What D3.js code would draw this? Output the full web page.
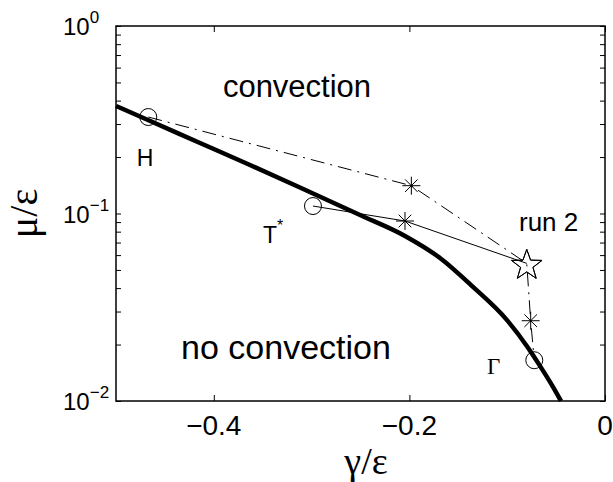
<!DOCTYPE html>
<html>
<head>
<meta charset="utf-8">
<script src="https://cdn.jsdelivr.net/npm/d3@7"></script>
<style>
  body { margin: 0; background: #fff; }
  text { font-family: "Liberation Sans", Arial, sans-serif; fill: #000; }
  .greek { font-family: "Liberation Serif", "Times New Roman", serif; }
</style>
</head>
<body>
<div id="chart"></div>
<script>
// Grenzkurve (dicke Linie)
const boundaryX = [-0.5, -0.4673, -0.4141, -0.3630, -0.3119, -0.2505, -0.2045, -0.1687, -0.1350, -0.1002, -0.0798, -0.0665, -0.0532, -0.045];
const boundaryY = [0.3745, 0.3151, 0.2377, 0.1814, 0.1376, 0.0982, 0.0759, 0.0579, 0.0406, 0.0270, 0.0196, 0.0154, 0.0119, 0.0100];

// Strich-Punkt-Pfad: H -> * -> Stern -> * -> Gamma
const dashX = [-0.467, -0.198, -0.080, -0.076, -0.0723];
const dashY = [0.327, 0.1407, 0.0542, 0.0268, 0.0165];
const dashMarkers = ["circle", "asterisk", "star", "asterisk", "circle"];

// Durchgezogener Pfad: T* -> * -> Stern
const solidX = [-0.2986, -0.2045, -0.080];
const solidY = [0.1096, 0.0912, 0.0542];
const solidMarkers = ["circle", "asterisk", "star"];

const xTicks = [-0.4, -0.2, 0];
const xTickLabels = ["\u22120.4", "\u22120.2", "0"];
const yTicks = [0.01, 0.1, 1];
const yTickExp = ["\u22122", "\u22121", "0"];

const width = 613, height = 482;
const margin = { top: 26, right: 8, bottom: 81, left: 116 };

const svg = d3.select("#chart").append("svg")
    .attr("width", width)
    .attr("height", height);

const x = d3.scaleLinear()
    .domain([-0.5, 0])
    .range([margin.left, width - margin.right]);

const y = d3.scaleLog()
    .domain([0.01, 1])
    .range([height - margin.bottom, margin.top]);

// Achsen mit Ticks nach innen
const minorY = [];
for (let e = -2; e < 0; e++) {
    for (let k = 1; k < 10; k++) minorY.push(k * Math.pow(10, e));
}
minorY.push(1);

const axisG = svg.append("g");
axisG.append("g")
    .attr("transform", `translate(0,${y(0.01)})`)
    .call(d3.axisBottom(x).tickValues(xTicks).tickSizeInner(-6).tickSizeOuter(0).tickFormat(""));
axisG.append("g")
    .attr("transform", `translate(0,${y(1)})`)
    .call(d3.axisTop(x).tickValues(xTicks).tickSizeInner(-6).tickSizeOuter(0).tickFormat(""));
axisG.append("g")
    .attr("transform", `translate(${x(-0.5)},0)`)
    .call(d3.axisLeft(y).tickValues(minorY).tickSizeInner(-5).tickSizeOuter(0).tickFormat(""));
axisG.append("g")
    .attr("transform", `translate(${x(0)},0)`)
    .call(d3.axisRight(y).tickValues(minorY).tickSizeInner(-5).tickSizeOuter(0).tickFormat(""));
axisG.selectAll(".domain").remove();
axisG.selectAll("line").attr("stroke", "#000").attr("stroke-width", 1);

svg.append("rect")
    .attr("x", x(-0.5))
    .attr("y", y(1))
    .attr("width", x(0) - x(-0.5))
    .attr("height", y(0.01) - y(1))
    .attr("fill", "none")
    .attr("stroke", "#000")
    .attr("stroke-width", 1.5);

// Tick-Beschriftungen
svg.append("g")
    .selectAll("text")
    .data(xTicks)
    .enter()
    .append("text")
    .attr("x", d => x(d))
    .attr("y", y(0.01) + 34)
    .attr("text-anchor", "middle")
    .style("font-size", "28px")
    .text((d, i) => xTickLabels[i]);

const yLab = svg.append("g")
    .selectAll("text")
    .data(yTicks)
    .enter()
    .append("text")
    .attr("x", 63)
    .attr("y", d => y(d) + 9)
    .style("font-size", "24px");
yLab.append("tspan").text("10");
yLab.append("tspan")
    .attr("dy", -12)
    .style("font-size", "17px")
    .text((d, i) => yTickExp[i]);

// Achsentitel
svg.append("text")
    .attr("class", "greek")
    .attr("x", 366)
    .attr("y", 474)
    .attr("text-anchor", "middle")
    .style("font-size", "38px")
    .text("\u03b3/\u03b5");

svg.append("text")
    .attr("class", "greek")
    .attr("transform", `translate(37,${(y(0.01) + y(1)) / 2}) rotate(-90)`)
    .attr("text-anchor", "middle")
    .style("font-size", "40px")
    .text("\u03bc/\u03b5");

// Grenzkurve
const boundary = boundaryX.map((v, i) => [v, boundaryY[i]]);
svg.append("path")
    .datum(boundary)
    .attr("d", d3.line().x(d => x(d[0])).y(d => y(d[1])).curve(d3.curveMonotoneX))
    .attr("fill", "none")
    .attr("stroke", "#000")
    .attr("stroke-width", 4.5);

// Pfade
const line = d3.line().x(d => x(d[0])).y(d => y(d[1]));
svg.append("path")
    .datum(dashX.map((v, i) => [v, dashY[i]]))
    .attr("d", line)
    .attr("fill", "none")
    .attr("stroke", "#000")
    .attr("stroke-width", 1)
    .attr("stroke-dasharray", "14,6,2,6");

svg.append("path")
    .datum(solidX.map((v, i) => [v, solidY[i]]))
    .attr("d", line)
    .attr("fill", "none")
    .attr("stroke", "#000")
    .attr("stroke-width", 1);

// Marker
function drawMarker(g, type, cx, cy) {
    if (type === "circle") {
        g.append("circle")
            .attr("cx", cx).attr("cy", cy).attr("r", 8.5)
            .attr("fill", "none").attr("stroke", "#000").attr("stroke-width", 1);
    } else if (type === "asterisk") {
        const r = 9;
        const segs = [[r, 0], [0, r], [r * 0.7, r * 0.7], [r * 0.7, -r * 0.7]];
        segs.forEach(([dx, dy]) => {
            g.append("line")
                .attr("x1", cx - dx).attr("y1", cy - dy)
                .attr("x2", cx + dx).attr("y2", cy + dy)
                .attr("stroke", "#000").attr("stroke-width", 1);
        });
    } else if (type === "star") {
        const pts = d3.range(10).map(i => {
            const a = -Math.PI / 2 + i * Math.PI / 5;
            const rr = i % 2 === 0 ? 16 : 6.5;
            return [cx + rr * Math.cos(a), cy + rr * Math.sin(a) + 2];
        });
        g.append("polygon")
            .attr("points", pts.map(p => p.join(",")).join(" "))
            .attr("fill", "none").attr("stroke", "#000").attr("stroke-width", 1);
    }
}

const markerG = svg.append("g");
dashX.forEach((v, i) => drawMarker(markerG, dashMarkers[i], x(v), y(dashY[i])));
solidX.forEach((v, i) => drawMarker(markerG, solidMarkers[i], x(v), y(solidY[i])));

// Beschriftungen im Diagramm
svg.append("text")
    .attr("x", 297).attr("y", 97)
    .attr("text-anchor", "middle")
    .style("font-size", "31px")
    .text("convection");

svg.append("text")
    .attr("x", 286).attr("y", 359)
    .attr("text-anchor", "middle")
    .style("font-size", "34px")
    .text("no convection");

svg.append("text")
    .attr("x", 145).attr("y", 166)
    .attr("text-anchor", "middle")
    .style("font-size", "23px")
    .text("H");

const tStar = svg.append("text")
    .attr("x", 263).attr("y", 243)
    .style("font-size", "23px");
tStar.append("tspan").text("T");
tStar.append("tspan").attr("dy", -12).style("font-size", "16px").text("*");

svg.append("text")
    .attr("x", 519).attr("y", 231)
    .style("font-size", "26px")
    .text("run 2");

svg.append("text")
    .attr("class", "greek")
    .attr("x", 487).attr("y", 374)
    .style("font-size", "23px")
    .text("\u0393");
</script>
</body>
</html>
